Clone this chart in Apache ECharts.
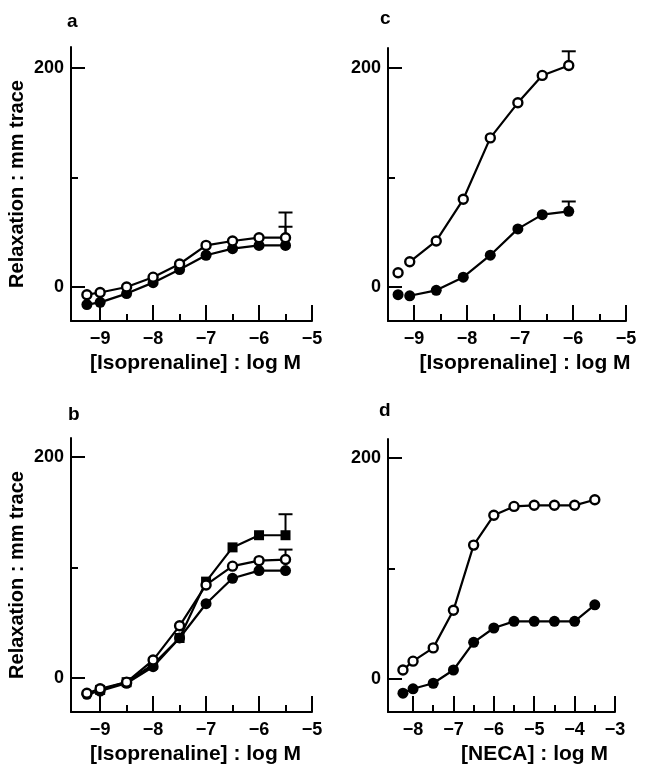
<!DOCTYPE html>
<html>
<head>
<meta charset="utf-8">
<script src="https://cdn.jsdelivr.net/npm/echarts@6/dist/echarts.min.js"></script>
<style>
html,body{margin:0;padding:0;background:#fff;}
#chart{width:653px;height:769px;}
</style>
</head>
<body>
<div id="chart"></div>
<script>
// ---- data ----
const panelLetters = ['a', 'c', 'b', 'd'];
const xTitles = ['[Isoprenaline] : log M', '[Isoprenaline] : log M', '[Isoprenaline] : log M', '[NECA] : log M'];
const yTitle = 'Relaxation : mm trace';
const yTickLabels = [0, 200];
const yMinorTicks = [100];
const xTicksIso = [-9, -8, -7, -6, -5];
const xMinorIso = [-8.5, -7.5, -6.5, -5.5];
const xTicksNeca = [-8, -7, -6, -5, -4, -3];
const xMinorNeca = [-7.5, -6.5, -5.5, -4.5, -3.5];

// panel a
const xA = [-9.25, -9, -8.5, -8, -7.5, -7, -6.5, -6, -5.5];
const aOpen = [-7, -5, 0, 9, 21, 38, 42, 45, 45];
const aFilled = [-16, -14, -6, 4, 16, 29, 35, 38, 38];
const aErr = [[-5.5, 45, 68], [-5.5, 38, 55]];

// panel b
const xB = [-9.25, -9, -8.5, -8, -7.5, -7, -6.5, -6, -5.5];
const bOpen = [-14, -10, -4, 16, 47, 84, 101, 106, 107];
const bFilled = [-15, -12, -5, 10, 36, 67, 90, 97, 97];
const xBSq = [-9, -8.5, -8, -7.5, -7, -6.5, -6, -5.5];
const bSquare = [-11, -4, 12, 36, 87, 118, 129, 129];
const bErr = [[-5.5, 129, 148], [-5.5, 107, 116]];

// panel c (first point = control, not joined)
const xCctrl = [-9.3];
const cOpenCtrl = [13];
const cFilledCtrl = [-7];
const xC = [-9.08, -8.58, -8.07, -7.56, -7.04, -6.58, -6.08];
const cOpen = [23, 42, 80, 136, 168, 193, 202];
const cFilled = [-8, -3, 9, 29, 53, 66, 69];
const cErr = [[-6.08, 202, 215], [-6.08, 69, 78]];

// panel d
const xD = [-8.25, -8, -7.5, -7, -6.5, -6, -5.5, -5, -4.5, -4, -3.5];
const dOpen = [8, 16, 28, 62, 121, 148, 156, 157, 157, 157, 162];
const dFilled = [-13, -9, -4, 8, 33, 46, 52, 52, 52, 52, 67];

// ---- layout ----
const FONT = '"Liberation Sans", Arial, Helvetica, sans-serif';
const grids = [
  {left: 71, top: 47, width: 241, height: 274},   // a
  {left: 388, top: 48, width: 238, height: 273},  // c
  {left: 71, top: 438, width: 241, height: 274},  // b
  {left: 388, top: 439, width: 227, height: 273}  // d
];
const xRanges = [[-9.55, -5], [-9.49, -5], [-9.55, -5], [-8.62, -3]];
const yRanges = [[-31, 219], [-31, 218], [-31, 217], [-30, 217]];
const xMajor = [xTicksIso, xTicksIso, xTicksIso, xTicksNeca];
const xMinor = [xMinorIso, xMinorIso, xMinorIso, xMinorNeca];
const titleShift = [8, 36, 8, 66];
const letterPos = [[67, 12], [380, 9], [68, 405], [379, 401]];

function fmt(v) { return v < 0 ? '\u2212' + Math.abs(v) : String(v); }
function zip(xs, ys) { return xs.map((x, i) => [x, ys[i]]); }

const xAxes = [], yAxes = [];
grids.forEach((g, i) => {
  xAxes.push({
    gridIndex: i, type: 'value', min: xRanges[i][0], max: xRanges[i][1], position: 'bottom',
    axisLine: {show: true, onZero: false, lineStyle: {color: '#000', width: 2}},
    axisTick: {show: true, inside: true, length: 16, customValues: xMajor[i], lineStyle: {color: '#000', width: 2}},
    axisLabel: {show: true, customValues: xMajor[i], formatter: fmt, margin: 9,
      fontFamily: FONT, fontWeight: 'bold', fontSize: 18, color: '#000'},
    splitLine: {show: false},
    name: xTitles[i], nameLocation: 'middle', nameGap: 32,
    nameTextStyle: {fontFamily: FONT, fontWeight: 'bold', fontSize: 21, color: '#000',
      padding: [0, 0, 0, titleShift[i]]}
  });
  xAxes.push({
    gridIndex: i, type: 'value', min: xRanges[i][0], max: xRanges[i][1], position: 'bottom',
    axisLine: {show: false, onZero: false},
    axisTick: {show: true, inside: true, length: 7, customValues: xMinor[i], lineStyle: {color: '#000', width: 2}},
    axisLabel: {show: false}, splitLine: {show: false}
  });
  yAxes.push({
    gridIndex: i, type: 'value', min: yRanges[i][0], max: yRanges[i][1], position: 'left',
    axisLine: {show: true, onZero: false, lineStyle: {color: '#000', width: 2}},
    axisTick: {show: true, inside: true, length: 14, customValues: yTickLabels, lineStyle: {color: '#000', width: 2}},
    axisLabel: {show: true, customValues: yTickLabels, formatter: fmt, margin: 7,
      fontFamily: FONT, fontWeight: 'bold', fontSize: 18, color: '#000'},
    splitLine: {show: false},
    name: (i === 0 || i === 2) ? yTitle : '', nameLocation: 'middle', nameGap: 44, nameRotate: 90,
    nameTextStyle: {fontFamily: FONT, fontWeight: 'bold', fontSize: 20, color: '#000'}
  });
  yAxes.push({
    gridIndex: i, type: 'value', min: yRanges[i][0], max: yRanges[i][1], position: 'left',
    axisLine: {show: false, onZero: false},
    axisTick: {show: true, inside: true, length: 7, customValues: yMinorTicks, lineStyle: {color: '#000', width: 2}},
    axisLabel: {show: false}, splitLine: {show: false}
  });
});

function lineSeries(gi, xs, ys, kind, showLine, z) {
  const open = kind === 'open';
  const sq = kind === 'square';
  return {
    type: 'line', xAxisIndex: gi * 2, yAxisIndex: gi * 2, data: zip(xs, ys),
    symbol: sq ? 'rect' : 'circle', symbolSize: open ? 9 : (sq ? 10 : 11),
    showAllSymbol: true,
    lineStyle: {color: '#000', width: showLine === false ? 0 : 2.2, opacity: showLine === false ? 0 : 1},
    itemStyle: {color: open ? '#fff' : '#000', borderColor: '#000', borderWidth: open ? 2.4 : 0},
    emphasis: {disabled: true}, silent: true, z: z, clip: false
  };
}
function errSeries(gi, data) {
  return {
    type: 'custom', xAxisIndex: gi * 2, yAxisIndex: gi * 2, data: data, z: 1, silent: true, clip: false,
    encode: {x: 0, y: 1},
    renderItem: function (params, api) {
      const x = api.value(0), y = api.value(1), t = api.value(2);
      const p0 = api.coord([x, y]);
      const p1 = api.coord([x, t]);
      return {type: 'group', children: [
        {type: 'line', shape: {x1: p0[0], y1: p0[1], x2: p1[0], y2: p1[1]}, style: {stroke: '#000', lineWidth: 2}},
        {type: 'line', shape: {x1: p1[0] - 7, y1: p1[1], x2: p1[0] + 7, y2: p1[1]}, style: {stroke: '#000', lineWidth: 2}}
      ]};
    }
  };
}

const series = [
  // a
  errSeries(0, aErr),
  lineSeries(0, xA, aFilled, 'filled', true, 3),
  lineSeries(0, xA, aOpen, 'open', true, 4),
  // c
  errSeries(1, cErr),
  lineSeries(1, xC, cFilled, 'filled', true, 3),
  lineSeries(1, xC, cOpen, 'open', true, 4),
  lineSeries(1, xCctrl, cFilledCtrl, 'filled', false, 3),
  lineSeries(1, xCctrl, cOpenCtrl, 'open', false, 4),
  // b
  errSeries(2, bErr),
  lineSeries(2, xBSq, bSquare, 'square', true, 2),
  lineSeries(2, xB, bFilled, 'filled', true, 3),
  lineSeries(2, xB, bOpen, 'open', true, 4),
  // d
  lineSeries(3, xD, dFilled, 'filled', true, 3),
  lineSeries(3, xD, dOpen, 'open', true, 4)
];

const graphics = panelLetters.map((L, i) => ({
  type: 'text', left: letterPos[i][0], top: letterPos[i][1],
  style: {text: L, font: 'bold 19px ' + FONT, fill: '#000'}
}));

const chart = echarts.init(document.getElementById('chart'), null, {renderer: 'canvas'});
chart.setOption({
  animation: false,
  backgroundColor: '#fff',
  grid: grids.map(g => Object.assign({outerBoundsMode: 'none', containLabel: false}, g)),
  xAxis: xAxes,
  yAxis: yAxes,
  series: series,
  graphic: graphics
});
</script>
</body>
</html>
